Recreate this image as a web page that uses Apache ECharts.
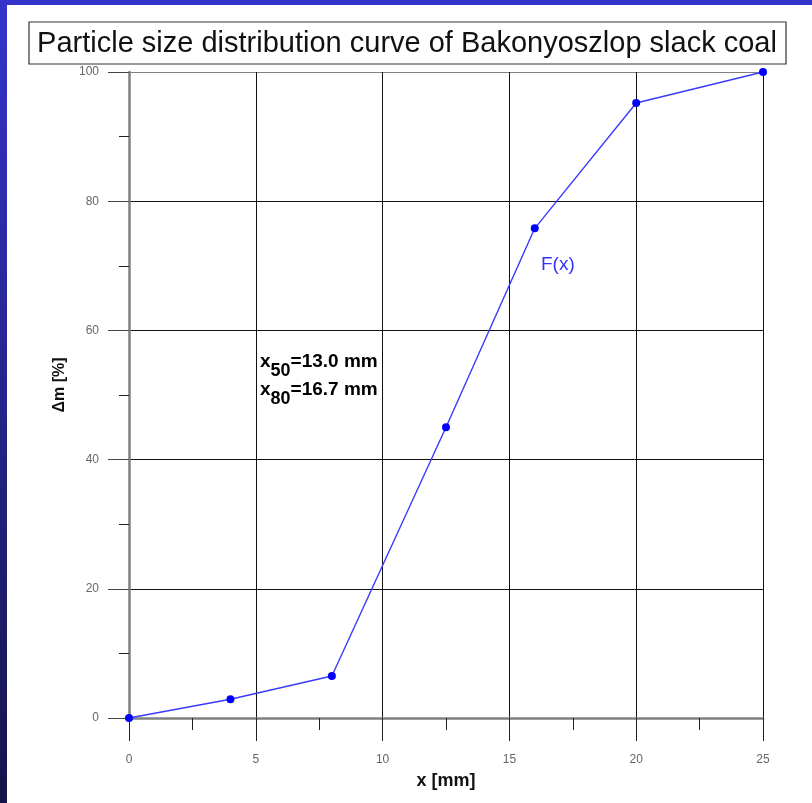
<!DOCTYPE html>
<html>
<head>
<meta charset="utf-8">
<style>
  html, body { margin: 0; padding: 0; background: #fff; }
  #chart { width: 812px; height: 803px; }
</style>
<script src="https://cdn.jsdelivr.net/npm/echarts@6/dist/echarts.min.js"></script>
</head>
<body>
<div id="chart"></div>
<script>
// Sieve sizes (mm) and cumulative passing mass fraction (%)
const sizes = [0, 4, 8, 12.5, 16, 20, 25];
const passing = [0, 2.9, 6.5, 45, 75.8, 95.2, 100];

const titleText = 'Particle size distribution curve of Bakonyoszlop slack coal';
const xName = 'x [mm]';
const yName = '\u0394m [%]';
const curveLabel = 'F(x)';
const x50Text = ['x', '50', '=13.0 mm'];
const x80Text = ['x', '80', '=16.7 mm'];

const chart = echarts.init(document.getElementById('chart'), null, { renderer: 'canvas' });

const font = 'Liberation Sans, Arial, Helvetica, sans-serif';

const richAnno = {
  a: { fontFamily: font, fontWeight: 'bold', fontSize: 19, color: '#111', lineHeight: 28, verticalAlign: 'top', padding: [0, 0, 2, 0] },
  s: { fontFamily: font, fontWeight: 'bold', fontSize: 18, color: '#111', lineHeight: 28, verticalAlign: 'bottom', padding: [2, 0, 0, 0] }
};

chart.setOption({
  backgroundColor: '#ffffff',
  animation: false,
  grid: { left: 129, right: 49, top: 72, bottom: 85, containLabel: false },
  graphic: [
    // outer presentation frame
    {
      type: 'rect', z: -10, silent: true,
      shape: { x: 0, y: 0, width: 812, height: 803 },
      style: {
        fill: new echarts.graphic.LinearGradient(0, 0, 0, 1, [
          { offset: 0, color: '#3434cc' },
          { offset: 1, color: '#14144a' }
        ])
      }
    },
    {
      type: 'rect', z: -9, silent: true,
      shape: { x: 7, y: 5, width: 805, height: 798 },
      style: { fill: '#ffffff' }
    },
    // boxed title
    {
      type: 'rect', z: 5, silent: true,
      shape: { x: 29, y: 22, width: 757, height: 42 },
      style: { fill: '#ffffff', stroke: '#333', lineWidth: 1.2 }
    },
    {
      type: 'text', z: 6, silent: true,
      x: 407, y: 44,
      style: {
        text: titleText, fontFamily: font, fontSize: 29, fill: '#111',
        align: 'center', verticalAlign: 'middle'
      }
    },
    // characteristic sizes
    {
      type: 'text', z: 1, silent: true,
      x: 260, y: 352,
      style: {
        text: '{a|' + x50Text[0] + '}{s|' + x50Text[1] + '}{a|' + x50Text[2] + '}\n' +
              '{a|' + x80Text[0] + '}{s|' + x80Text[1] + '}{a|' + x80Text[2] + '}',
        rich: richAnno, fontFamily: font, align: 'left', verticalAlign: 'top'
      }
    },
    // curve label
    {
      type: 'text', z: 1, silent: true,
      x: 541, y: 255,
      style: { text: curveLabel, fontFamily: font, fontSize: 19, fill: '#3333ff', align: 'left', verticalAlign: 'top' }
    }
  ],
  xAxis: {
    type: 'value', min: 0, max: 25, interval: 5,
    name: xName, nameLocation: 'middle', nameGap: 54,
    nameTextStyle: { fontFamily: font, fontWeight: 'bold', fontSize: 18, color: '#111' },
    axisLine: { show: true, onZero: false, lineStyle: { color: '#808080', width: 2.5 } },
    axisTick: { show: true, inside: false, length: 23, lineStyle: { color: '#222', width: 1 } },
    minorTick: { show: true, splitNumber: 2, length: 12, lineStyle: { color: '#222', width: 1 } },
    axisLabel: { margin: 36, fontFamily: font, fontSize: 12, color: '#666' },
    splitLine: { show: true, lineStyle: { color: ['#808080', '#111', '#111', '#111', '#111', '#111'], width: 1 } }
  },
  yAxis: {
    type: 'value', min: 0, max: 100, interval: 20,
    name: yName, nameLocation: 'middle', nameGap: 50, nameRotate: 90,
    nameTextStyle: { fontFamily: font, fontWeight: 'bold', fontSize: 16, color: '#111', padding: [0, 0, 0, 20] },
    axisLine: { show: true, lineStyle: { color: '#808080', width: 2.5 } },
    axisTick: { show: true, inside: false, length: 21, lineStyle: { color: '#444', width: 1 } },
    minorTick: { show: true, splitNumber: 2, length: 10, lineStyle: { color: '#222', width: 1 } },
    axisLabel: { margin: 30, fontFamily: font, fontSize: 12, color: '#666' },
    splitLine: { show: true, lineStyle: { color: ['#808080', '#111', '#111', '#111', '#111', '#808080'], width: 1 } }
  },
  series: [{
    type: 'line',
    data: sizes.map((s, i) => [s, passing[i]]),
    symbol: 'circle', symbolSize: 8,
    lineStyle: { color: '#3a3aff', width: 1.4 },
    itemStyle: { color: '#0000ff' },
    z: 10
  }]
});
</script>
</body>
</html>
